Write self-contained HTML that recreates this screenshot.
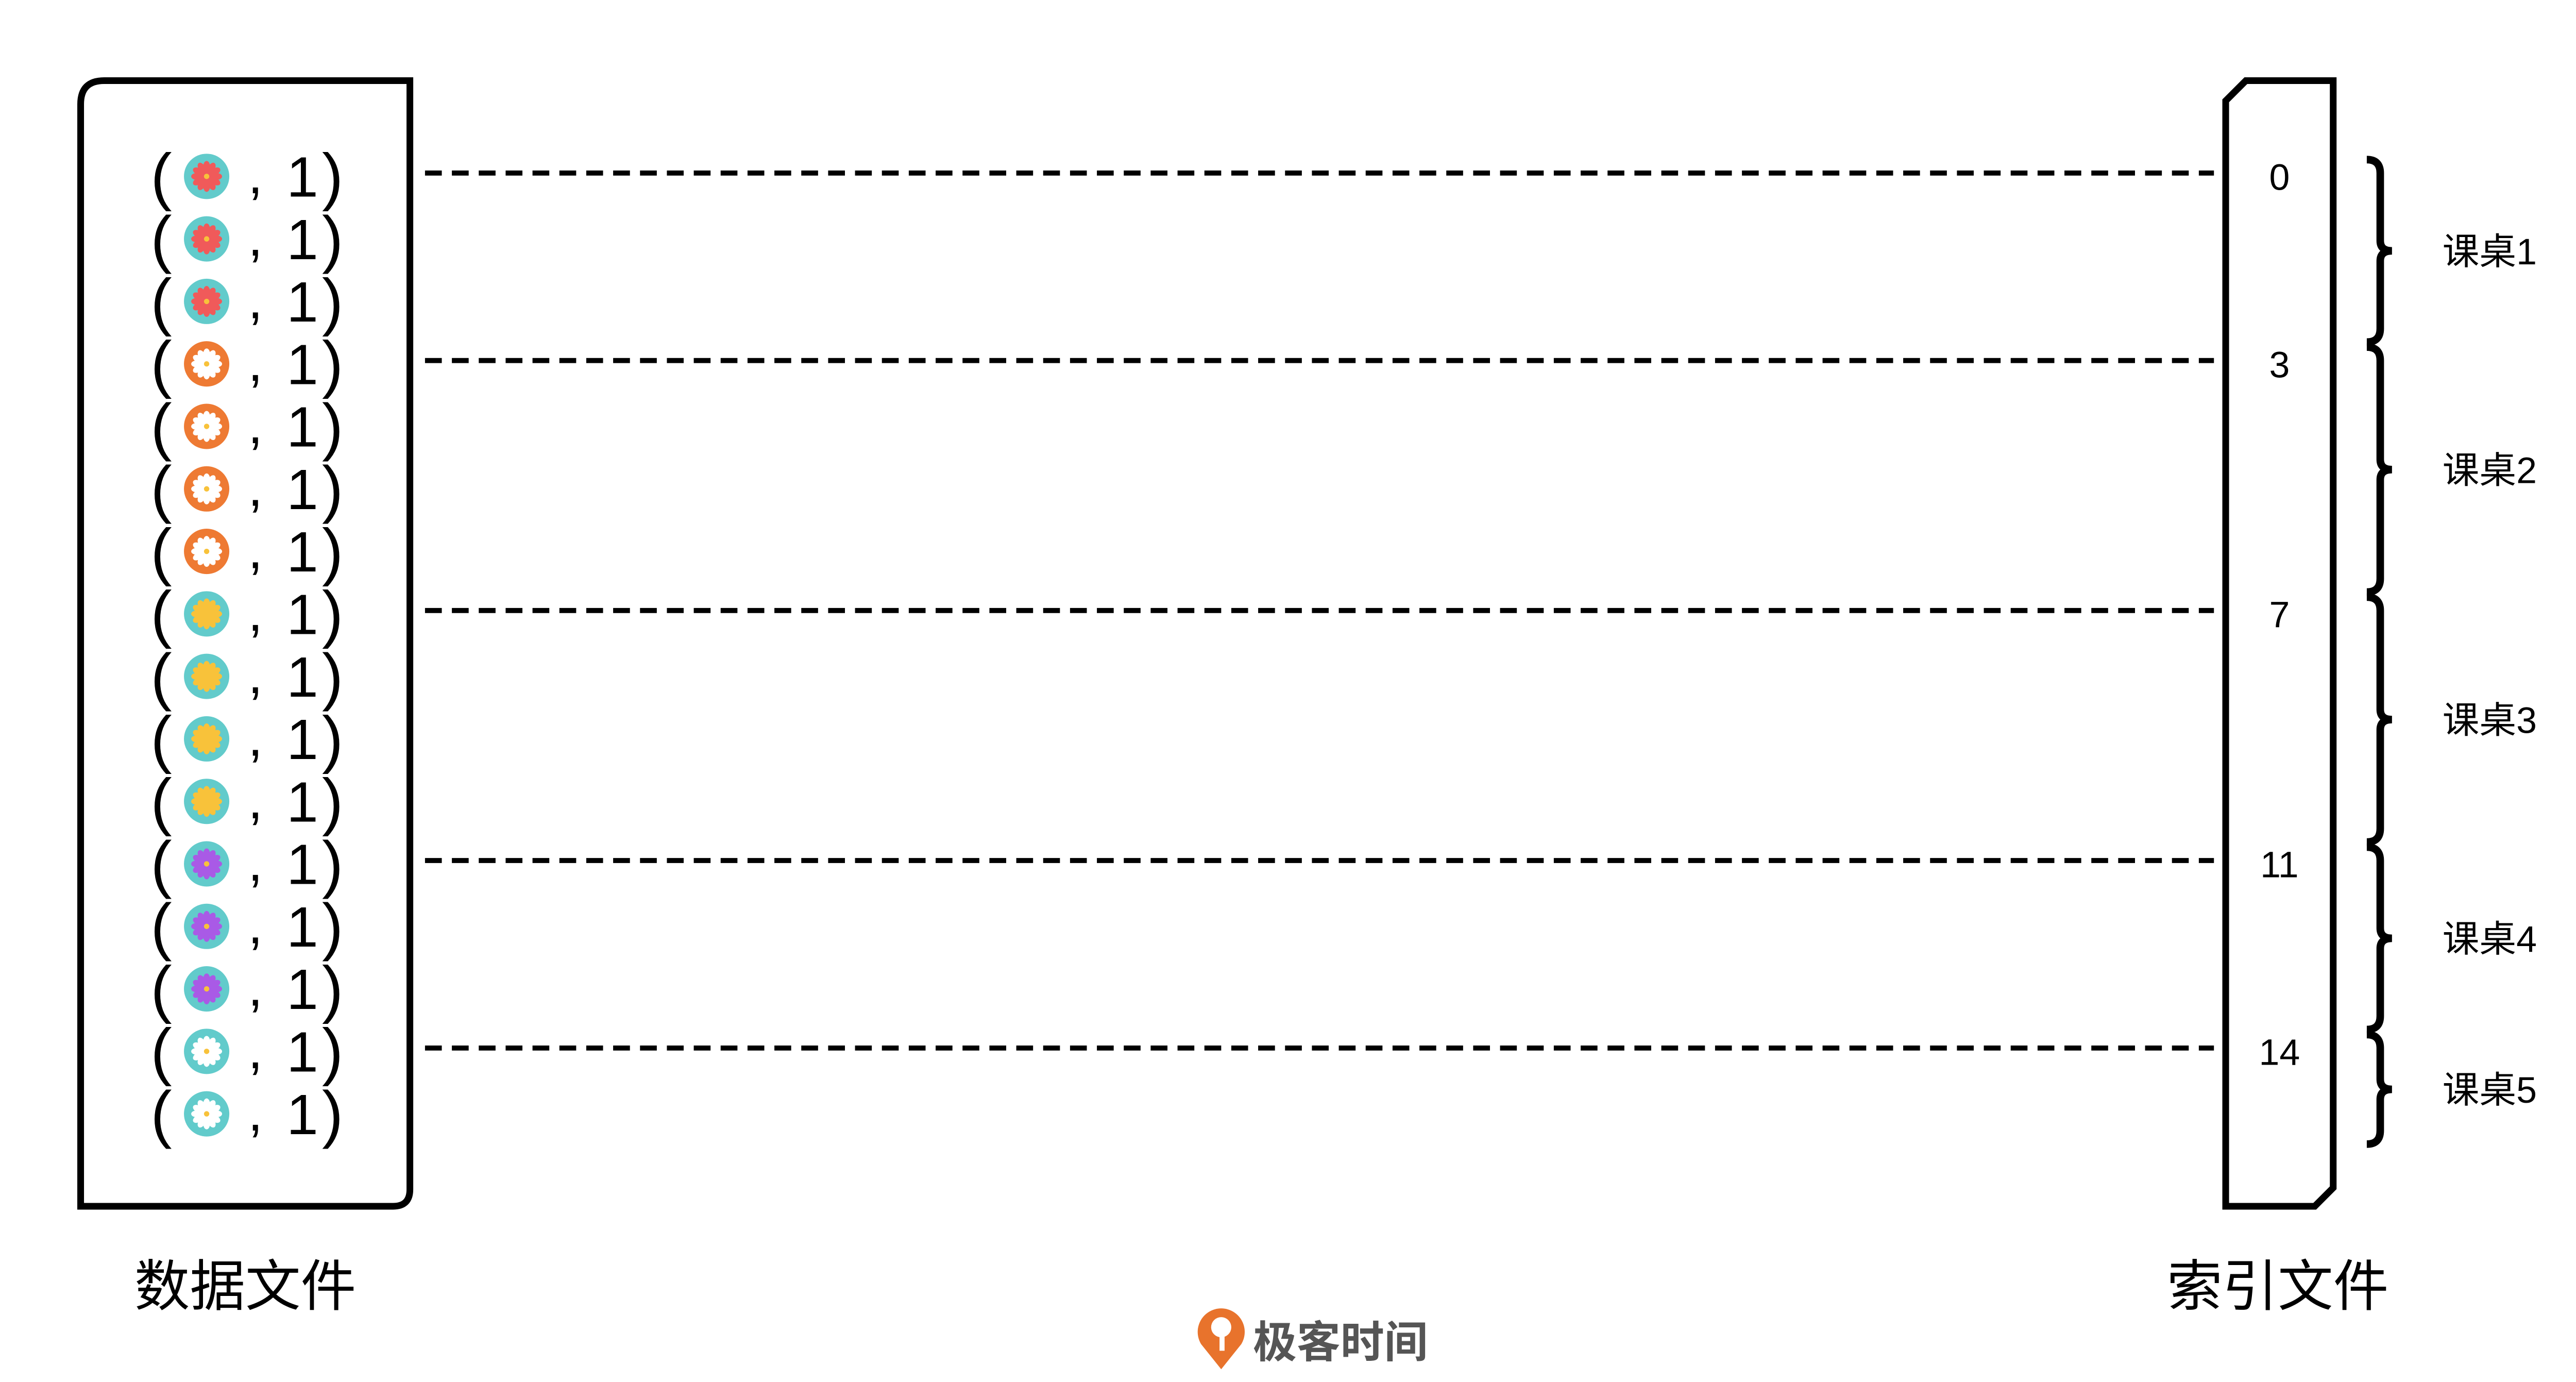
<!DOCTYPE html>
<html><head><meta charset="utf-8">
<style>
html,body{margin:0;padding:0;background:#fff;}
svg{display:block;}
text{font-family:"Liberation Sans","Noto Sans CJK SC",sans-serif;}
</style></head>
<body>
<svg id="chart" width="5055" height="2682" viewBox="0 0 1550.4 822.6" xmlns="http://www.w3.org/2000/svg">
  <rect width="1550.4" height="822.6" fill="#fff"/>
  <path d="M48,718 L48,62 Q48,48 62,48 L244,48 L244,708 Q244,718 234,718 Z" fill="none" stroke="#000" stroke-width="4"/>
  <path d="M1325,718 L1325,60 L1337,48 L1389,48 L1389,707 L1378,718 Z" fill="none" stroke="#000" stroke-width="4"/>
  <g id="rows"></g>
  <g id="lines"></g>
  <g id="braces"></g>
  <text x="146" y="777" font-size="33" text-anchor="middle">数据文件</text>
  <text x="1356" y="777" font-size="33" text-anchor="middle">索引文件</text>
  <g>
    <path d="M727,815 L715,800 A14,14 0 1 1 739,800 Z" fill="#e8732c"/>
    <circle cx="727" cy="790" r="6" fill="#fff"/>
    <rect x="726" y="790" width="3" height="14" fill="#fff"/>
    <text x="746" y="808" font-size="26" font-weight="bold" fill="#555">极客时间</text>
  </g>
</svg>
<script>
// data
const rowKinds = ['red','red','red','orange','orange','orange','orange','yellow','yellow','yellow','yellow','purple','purple','purple','white','white'];
const rowValues = [1,1,1,1,1,1,1,1,1,1,1,1,1,1,1,1];
const indexOffsets = [0,3,7,11,14];
const deskLabels = ['课桌1','课桌2','课桌3','课桌4','课桌5'];

const NS='http://www.w3.org/2000/svg';
const rowY = i => 105 + i*37.2;
const palette = {
  red:{bg:'#62cbcb',petal:'#f05a5a'},
  orange:{bg:'#ee7a33',petal:'#ffffff'},
  yellow:{bg:'#62cbcb',petal:'#f8c23a'},
  purple:{bg:'#62cbcb',petal:'#a95ae6'},
  white:{bg:'#62cbcb',petal:'#ffffff'}
};
function mk(tag, attrs, parent){
  const e=document.createElementNS(NS,tag);
  for(const k in attrs) e.setAttribute(k,attrs[k]);
  parent.appendChild(e); return e;
}
const rowsG=document.getElementById('rows');
rowKinds.forEach((k,i)=>{
  const y=rowY(i);
  const g=mk('g',{},rowsG);
  
  
  const t1=mk('text',{x:96,y:y+13,'font-size':38,'text-anchor':'middle'},g); t1.textContent='(';
  const c=palette[k];
  mk('circle',{cx:123,cy:y,r:13.5,fill:c.bg},g);
  mk('circle',{cx:123,cy:y,r:6.5,fill:c.petal},g);
  for(let p=0;p<12;p++){
    const a=p*Math.PI/6;
    const px=123+6*Math.cos(a), py=y+6*Math.sin(a);
    mk('ellipse',{cx:px,cy:py,rx:3.2,ry:2,fill:c.petal,transform:`rotate(${p*30} ${px} ${py})`},g);
  }
  mk('circle',{cx:123,cy:y,r:1.6,fill:'#f8c23a'},g);
  const t2=mk('text',{x:152,y:y+10,'font-size':32,'text-anchor':'middle'},g); t2.textContent=',';
  const t3=mk('text',{x:180,y:y+12,'font-size':34,'text-anchor':'middle'},g); t3.textContent=String(rowValues[i]);
  const t4=mk('text',{x:198,y:y+13,'font-size':38,'text-anchor':'middle'},g); t4.textContent=')';
});
const linesG=document.getElementById('lines');
indexOffsets.forEach((v,j)=>{
  const y=rowY(v)-2;
  const l=mk('line',{x1:253,x2:1318,y1:y,y2:y,stroke:'#000','stroke-width':3,'stroke-dasharray':'10 6'},linesG);
  
  
  const t=mk('text',{x:1357,y:y+10,'font-size':22,'text-anchor':'middle'},linesG);
  
  
  t.textContent=String(v);
});
const bracesG=document.getElementById('braces');
indexOffsets.forEach((v,j)=>{
  const top=rowY(v)-10;
  const end = j+1<indexOffsets.length ? rowY(indexOffsets[j+1])-13 : rowY(rowKinds.length-1)+18;
  const mid=(top+end)/2;
  const p=mk('path',{d:`M1409,${top} Q1417,${top} 1417,${top+8} L1417,${mid-6} Q1417,${mid} 1424,${mid} Q1417,${mid} 1417,${mid+6} L1417,${end-8} Q1417,${end} 1409,${end}`,fill:'none',stroke:'#000','stroke-width':4.5},bracesG);
  
  
  const t=mk('text',{x:1454,y:mid+8,'font-size':22},bracesG);
  
  
  t.textContent=deskLabels[j];
});
</script>
</body></html>
